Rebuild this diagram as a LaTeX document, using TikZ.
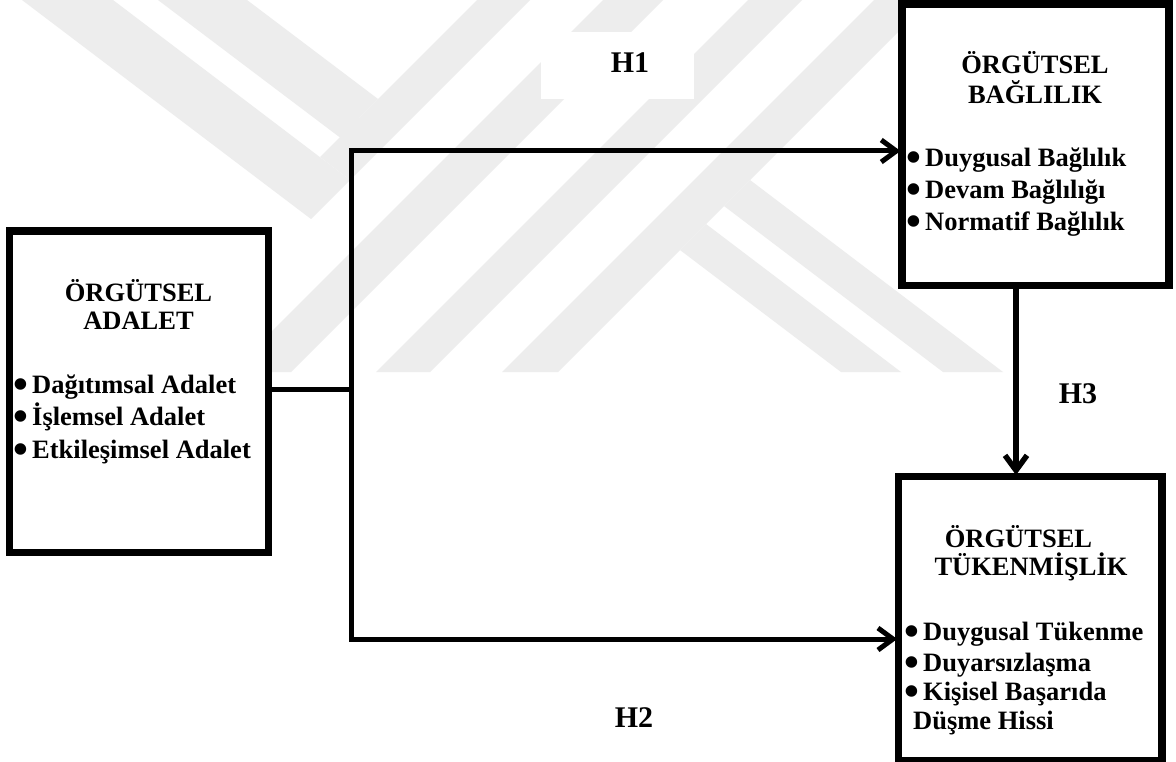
\documentclass[tikz,border=0pt]{standalone}
\usepackage{fontspec}
\setmainfont{Liberation Serif}
\usetikzlibrary{arrows.meta}
\definecolor{wm}{RGB}{237,237,237}
\newcommand{\bul}{\makebox[19pt][l]{\smash{\raisebox{-5pt}{\scalebox{1.6}{•}}}}}
\tikzset{
  box/.style={draw=black, line width=5pt, fill=white, inner sep=0pt, rectangle},
  conn/.style={draw=black, line width=5pt},
  arr/.style={conn, -{Straight Barb[length=15pt,width=22pt]}},
  ttl/.style={font=\fontsize{26.5}{28}\selectfont\bfseries, anchor=base, inner sep=0pt},
  itm/.style={font=\fontsize{26.5}{28}\selectfont\bfseries, anchor=base west, inner sep=0pt},
  hlab/.style={font=\fontsize{30}{30}\selectfont\bfseries, anchor=base, inner sep=0pt},
  wmark/.style={fill=wm, draw=none}
}
\begin{document}
\begin{tikzpicture}[x=1pt,y=-1pt]
\useasboundingbox (0,0) rectangle (1176,762);
\fill[white] (0,0) rectangle (1176,762);
% watermark
\begin{scope}
\clip (0,0) rectangle (1176,372);
\fill[wmark] (22,0) -- (311,219) -- (350,180) -- (113,0) -- cycle;
\fill[wmark] (477,0) -- (530,0) -- (350,180) -- (320,157) -- cycle;
\fill[wmark] (158,0) -- (340,137.5) -- (378,99) -- (247,0) -- cycle;
\fill[wmark] (603,0) -- (663,0) -- (291,372) -- (231,372) -- cycle;
\fill[wmark] (748,0) -- (802,0) -- (430,372) -- (376,372) -- cycle;
\fill[wmark] (874,0) -- (930,0) -- (558,372) -- (502,372) -- cycle;
\fill[wmark] (680,250) -- (706,224) -- (901,372) -- (841,372) -- cycle;
\fill[wmark] (724,206) -- (750,180) -- (1003,372) -- (943,372) -- cycle;
\end{scope}
\fill[white] (541,32) rectangle (694,99);
% boxes
\node[box, minimum width=256.5pt, minimum height=318.5pt] (adalet) at (138.75,391.75) {};
\node[box, minimum width=264.5pt, minimum height=279pt] (baglilik) at (1035.25,145) {};
\node[box, minimum width=260.8pt, minimum height=281.5pt] (tukenmislik) at (1030.1,618.25) {};
% connectors
\coordinate (j1) at (351.5,389);
\coordinate (t1) at (351.5,151);
\coordinate (b1) at (351.5,639);
\coordinate (v1) at (1016,300);
\draw[conn] (adalet.east |- j1) -- (j1);
\draw[arr] (j1) -- (t1) -- (t1 -| baglilik.west);
\draw[arr] (j1) -- (b1) -- (b1 -| tukenmislik.west);
\draw[arr, line width=5.5pt] (v1 |- baglilik.south) -- (v1 |- tukenmislik.north);
% redraw box borders over arrow tips
\draw[line width=5pt] (adalet.south west) rectangle (adalet.north east);
\draw[line width=5pt] (baglilik.south west) rectangle (baglilik.north east);
\draw[line width=5pt] (tukenmislik.south west) rectangle (tukenmislik.north east);
% left box text
\node[ttl] (a1) at (138.5,301.7) {ÖRGÜTSEL};
\node[ttl] (a2) at (138.5,330) {ADALET};
\node[itm] (a3) at (13,393) {\bul Dağıtımsal Adalet};
\node[itm] (a4) at (13,425.5) {\bul İşlemsel Adalet};
\node[itm] (a5) at (13,458) {\bul Etkileşimsel Adalet};
% top box text
\node[ttl] (g1) at (1035,73.3) {ÖRGÜTSEL};
\node[ttl] (g2) at (1035,103.3) {BAĞLILIK};
\node[itm] (g3) at (906,167) {\bul Duygusal Bağlılık};
\node[itm] (g4) at (906,199) {\bul Devam Bağlılığı};
\node[itm] (g5) at (906,231) {\bul Normatif Bağlılık};
% bottom box text
\node[ttl] (k1) at (1018.5,547) {ÖRGÜTSEL};
\node[ttl] (k2) at (1031,575) {TÜKENMİŞLİK};
\node[itm] (k3) at (904,640) {\bul Duygusal Tükenme};
\node[itm] (k4) at (904,671) {\bul Duyarsızlaşma};
\node[itm] (k5) at (904,700) {\bul Kişisel Başarıda};
\node[itm] (k6) at (913,729) {Düşme Hissi};
% hypothesis labels
\node[hlab] (h1) at (630,73) {H1};
\node[hlab] (h2) at (634,727) {H2};
\node[hlab] (h3) at (1078,403) {H3};
\end{tikzpicture}
\end{document}
